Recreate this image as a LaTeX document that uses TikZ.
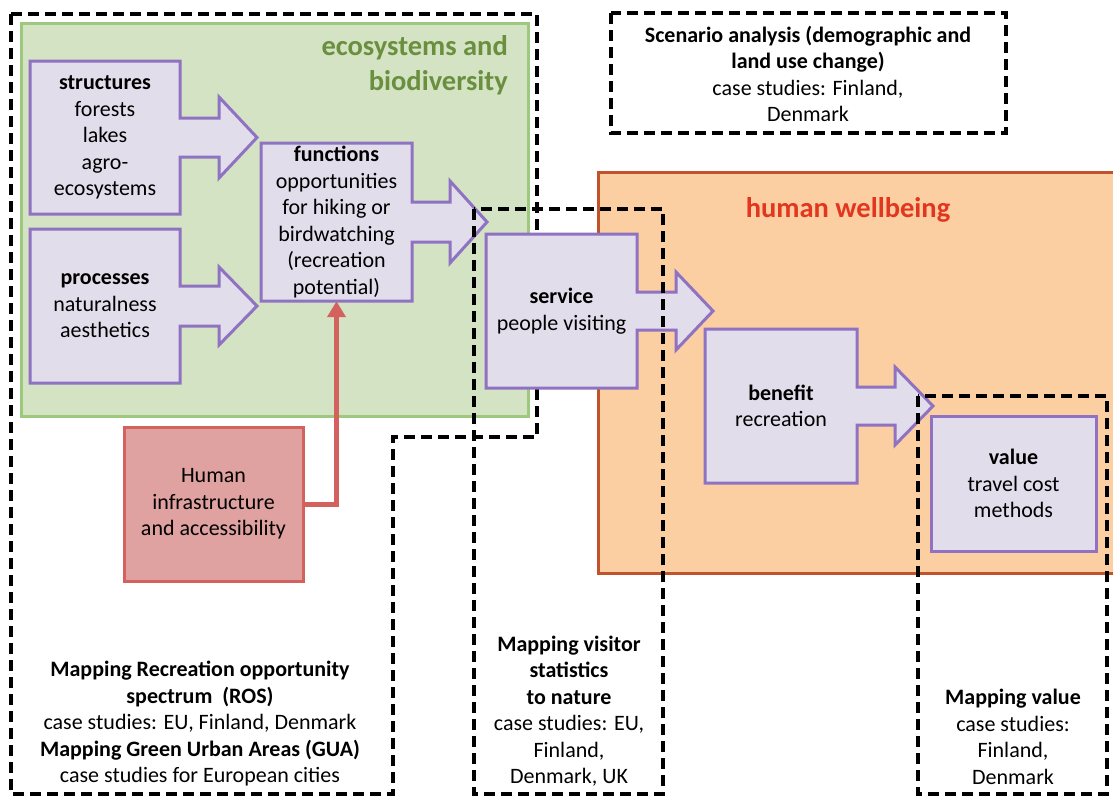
\documentclass[tikz,border=0pt]{standalone}
\usepackage{fontspec}
\setmainfont{Carlito}
\usetikzlibrary{arrows.meta}

\definecolor{boxfill}{HTML}{E2DDEB}
\definecolor{boxline}{HTML}{8F72C2}
\definecolor{ecofill}{HTML}{D4E3C3}
\definecolor{ecoline}{HTML}{9CC97E}
\definecolor{ecotext}{HTML}{6A8F3F}
\definecolor{wellfill}{HTML}{FBCFA2}
\definecolor{wellline}{HTML}{C0532B}
\definecolor{welltext}{HTML}{E2361F}
\definecolor{humfill}{HTML}{E0A1A1}
\definecolor{humline}{HTML}{D3625F}

\begin{document}
\begin{tikzpicture}[x=1pt, y=-1pt,
  flowbox/.style={draw=boxline, fill=boxfill, line width=3pt},
  boxtext/.style={inner sep=0pt, align=center, font=\fontsize{22}{26.5}\selectfont},
  zone/.style={draw=black, line width=3.2pt, dash pattern=on 11pt off 6pt},
  heading/.style={inner sep=0pt, font=\fontsize{28.5}{35}\selectfont\bfseries},
  redlink/.style={draw=humline, line width=5pt, -{Triangle[width=18pt,length=16pt]}}]
\useasboundingbox (0,0) rectangle (1113,796);

% the two domains
\fill[ecofill] (21,23) rectangle (528,416);
\draw[ecoline, line width=3pt] (21,23) rectangle (528,416);
\fill[wellfill] (598,172) rectangle (1113,573);
\draw[wellline, line width=3pt] (1113,172) -- (598,172) -- (598,573) -- (1113,573);
\node[heading, text=ecotext, align=right, anchor=east] (eco) at (508,65) {ecosystems and\\biodiversity};
\node[heading, text=welltext] (well) at (848,210) {human wellbeing};

% ROS zone, lies under the service box
\draw[zone] (11,14) -- (537,14) -- (537,437) -- (393,437) -- (393,794) -- (11,794) -- cycle;

% the cascade
\path[flowbox] (30,61) -- (180,61) -- (180,118) -- (219,118) -- (219,97) -- (257,137.5)
  -- (219,178) -- (219,157) -- (180,157) -- (180,214) -- (30,214) -- cycle;
\path[flowbox] (30,229) -- (180,229) -- (180,286) -- (219,286) -- (219,267) -- (257,306)
  -- (219,345) -- (219,326) -- (180,326) -- (180,383) -- (30,383) -- cycle;
\path[flowbox] (261,143) -- (412,143) -- (412,202) -- (450,202) -- (450,181) -- (487,222)
  -- (450,263) -- (450,242) -- (412,242) -- (412,301) -- (261,301) -- cycle;
\path[flowbox] (486,234) -- (637,234) -- (637,292) -- (676,292) -- (676,272) -- (713,311)
  -- (676,350) -- (676,330) -- (637,330) -- (637,388) -- (486,388) -- cycle;
\path[flowbox] (705,329) -- (857,329) -- (857,387) -- (895,387) -- (895,367) -- (933,406)
  -- (895,445) -- (895,425) -- (857,425) -- (857,483) -- (705,483) -- cycle;

\node[boxtext, minimum width=150pt, minimum height=153pt] (struct) at (105,137.5)
  {\textbf{structures}\\forests\\lakes\\agro-\\ecosystems};
\node[boxtext, minimum width=150pt, minimum height=154pt] (proc) at (105,306)
  {\textbf{processes}\\naturalness\\aesthetics};
\node[boxtext, minimum width=151pt, minimum height=158pt] (func) at (336.5,222)
  {\textbf{functions}\\opportunities\\for hiking or\\birdwatching\\(recreation\\potential)};
\node[boxtext, minimum width=151pt, minimum height=154pt] (serv) at (561.5,311)
  {\textbf{service}\\people visiting};
\node[boxtext, minimum width=152pt, minimum height=154pt] (bene) at (781,406)
  {\textbf{benefit}\\recreation};
\node[flowbox, boxtext, minimum width=165pt, minimum height=135pt] (value) at (1013.5,483.5)
  {\textbf{value}\\travel cost\\methods};

\node[boxtext, draw=humline, fill=humfill, line width=3pt, minimum width=179pt, minimum height=154pt] (human) at (213.5,504)
  {Human\\infrastructure\\and accessibility};
\draw[redlink] (human.east) -| (func.south);

% other mapping approaches
\draw[zone] (474,209) rectangle (663,794);
\draw[zone] (918,396) rectangle (1107,794);
\draw[zone] (611,13) rectangle (1006,133);

\node[boxtext] (ros) at (200,724)
  {\textbf{Mapping Recreation opportunity}\\\textbf{spectrum \ (ROS)}\\case studies: EU, Finland, Denmark\\\textbf{Mapping Green Urban Areas (GUA)}\\case studies for European cities};
\node[boxtext] (visit) at (569,711)
  {\textbf{Mapping visitor}\\\textbf{statistics}\\\textbf{to nature}\\case studies: EU,\\Finland,\\Denmark, UK};
\node[boxtext] (valmap) at (1013,737)
  {\textbf{Mapping value}\\case studies:\\Finland,\\Denmark};
\node[boxtext] (scen) at (808,74)
  {\textbf{Scenario analysis (demographic and}\\\textbf{land use change)}\\case studies: Finland,\\Denmark};
\end{tikzpicture}
\end{document}
